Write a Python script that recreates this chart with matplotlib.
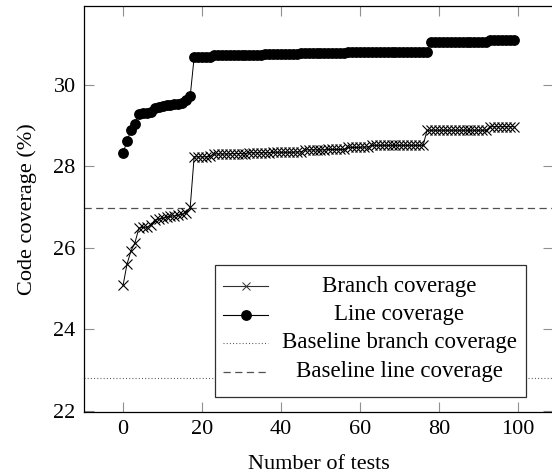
"""Code coverage growth over the number of generated tests."""
import matplotlib
matplotlib.use("Agg")
import matplotlib.pyplot as plt
from matplotlib.patches import Rectangle

# --- data ---
tests = list(range(100))
branch_cov = [
    25.08, 25.60, 25.92, 26.12, 26.48, 26.50, 26.50, 26.55, 26.68, 26.70,
    26.72, 26.75, 26.77, 26.78, 26.80, 26.82, 26.85, 26.99, 28.23, 28.23,
    28.23, 28.23, 28.24, 28.30, 28.30, 28.30, 28.30, 28.30, 28.31, 28.31,
    28.31, 28.31, 28.33, 28.33, 28.33, 28.33, 28.33, 28.33, 28.34, 28.34,
    28.34, 28.34, 28.34, 28.34, 28.35, 28.35, 28.40, 28.40, 28.40, 28.40,
    28.40, 28.40, 28.41, 28.41, 28.41, 28.41, 28.41, 28.46, 28.46, 28.46,
    28.46, 28.47, 28.47, 28.51, 28.51, 28.51, 28.51, 28.51, 28.51, 28.51,
    28.51, 28.51, 28.51, 28.51, 28.51, 28.51, 28.51, 28.88, 28.88, 28.88,
    28.88, 28.88, 28.88, 28.88, 28.88, 28.88, 28.88, 28.88, 28.88, 28.88,
    28.88, 28.88, 28.88, 28.97, 28.97, 28.97, 28.97, 28.97, 28.97, 28.97,
]
line_cov = [
    28.32, 28.62, 28.88, 29.03, 29.28, 29.30, 29.30, 29.32, 29.42, 29.46,
    29.48, 29.50, 29.50, 29.52, 29.53, 29.55, 29.62, 29.72, 30.67, 30.67,
    30.67, 30.68, 30.68, 30.72, 30.72, 30.72, 30.72, 30.72, 30.72, 30.73,
    30.73, 30.73, 30.73, 30.73, 30.74, 30.74, 30.76, 30.76, 30.76, 30.76,
    30.76, 30.76, 30.76, 30.76, 30.76, 30.77, 30.77, 30.77, 30.77, 30.77,
    30.77, 30.77, 30.77, 30.77, 30.77, 30.77, 30.77, 30.79, 30.79, 30.79,
    30.79, 30.79, 30.79, 30.79, 30.79, 30.79, 30.79, 30.79, 30.79, 30.79,
    30.79, 30.80, 30.80, 30.80, 30.80, 30.80, 30.80, 30.80, 31.04, 31.04,
    31.04, 31.04, 31.04, 31.04, 31.04, 31.04, 31.04, 31.04, 31.04, 31.04,
    31.04, 31.04, 31.05, 31.10, 31.10, 31.10, 31.10, 31.10, 31.10, 31.10,
]
baseline_branch = 22.8
baseline_line = 26.98

xticks = [0, 20, 40, 60, 80, 100]
yticks = [22, 24, 26, 28, 30]

legend_labels = ["Branch coverage", "Line coverage",
                 "Baseline branch coverage", "Baseline line coverage"]

plt.rcParams["font.family"] = ["Liberation Serif", "DejaVu Serif"]
plt.rcParams["lines.scale_dashes"] = False

FS = 16

fig = plt.figure(figsize=(5.52, 4.75), dpi=100)
ax = fig.add_axes([84 / 552, 63 / 475, 469 / 552, 406 / 475])

dotted = (0, (0.7, 1.6))
dashed = (0, (5.2, 3.2))
grey = "#505050"

ax.axhline(baseline_branch, color=grey, lw=0.8, ls=dotted, zorder=1)
ax.axhline(baseline_line, color=grey, lw=0.9, ls=dashed, zorder=1)
ax.plot(tests, branch_cov, color="black", lw=0.7, marker="x", ms=6.5,
        mew=0.8, zorder=3)
ax.plot(tests, line_cov, color="black", lw=0.7, marker="o", ms=7.8,
        mew=0, zorder=3)

ax.set_xlim(-9.9, 108.9)
ax.set_ylim(21.97, 31.93)
ax.set_xticks(xticks)
ax.set_yticks(yticks)
ax.tick_params(direction="in", length=7, width=0.8, color="#909090",
               top=True, right=True, labelsize=FS, pad=6)
for spine in ax.spines.values():
    spine.set_linewidth(0.9)
ax.set_xlabel("Number of tests", fontsize=FS, labelpad=11)
ax.set_ylabel("Code coverage (%)", fontsize=FS, labelpad=12)

# legend drawn in axes coordinates (handles left, centred text)
box = Rectangle((0.280, 0.037), 0.662, 0.325, transform=ax.transAxes,
                facecolor="white", edgecolor="#303030", lw=0.9, zorder=5)
ax.add_patch(box)
rows = [0.310, 0.240, 0.170, 0.099]
styles = [
    dict(color="#303030", lw=0.8, marker="x", ms=6, mew=0.7, markevery=[1]),
    dict(color="black", lw=0.8, marker="o", ms=7.8, mew=0, markevery=[1]),
    dict(color=grey, lw=0.8, ls=dotted),
    dict(color=grey, lw=0.9, ls=dashed),
]
for y, label, st in zip(rows, legend_labels, styles):
    ax.plot([0.297, 0.345, 0.393], [y, y, y], transform=ax.transAxes,
            zorder=6, clip_on=False, **st)
    ax.text(0.672, y, label, transform=ax.transAxes, ha="center",
            va="center", fontsize=16.5, zorder=6)

fig.savefig("out.png", dpi=100)
